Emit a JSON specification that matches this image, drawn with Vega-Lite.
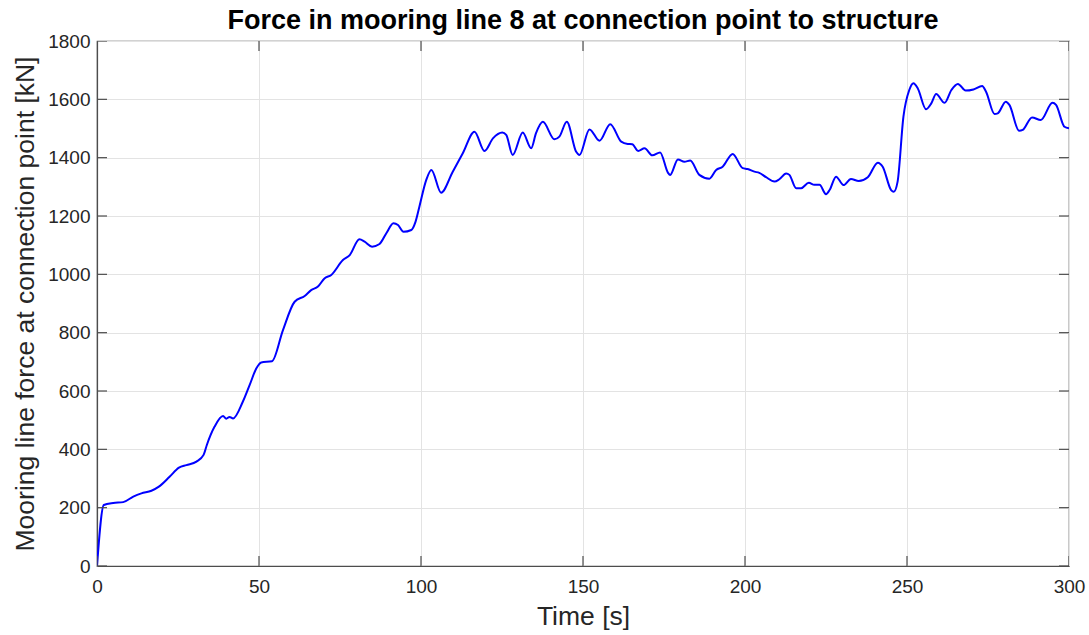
{
  "$schema": "https://vega.github.io/schema/vega-lite/v6.json",
  "autosize": "none",
  "padding": {"left": 97, "top": 41, "right": 19, "bottom": 69},
  "width": 972,
  "height": 525,
  "title": {
    "text": "Force in mooring line 8 at connection point to structure",
    "fontSize": 27,
    "fontWeight": "bold",
    "font": "Liberation Sans",
    "color": "#000000",
    "anchor": "middle",
    "offset": -3
  },
  "config": {
    "font": "Liberation Sans",
    "view": {"stroke": "#4d4d4d", "strokeWidth": 1.2},
    "axis": {
      "labelFont": "Liberation Sans",
      "labelFontSize": 19,
      "labelColor": "#262626",
      "titleFont": "Liberation Sans",
      "titleFontSize": 26.5,
      "titleFontWeight": "normal",
      "titleColor": "#262626",
      "gridColor": "#e3e3e3",
      "gridWidth": 1,
      "domainColor": "#4d4d4d",
      "domainWidth": 1.2,
      "ticks": false,
      "labelFlush": false,
      "labelOverlap": false
    }
  },
  "datasets": {
    "force": [
      {"t": 0, "v": 0}, {"t": 2.1, "v": 209}, {"t": 5, "v": 216}, {"t": 8.1, "v": 219},
      {"t": 11.2, "v": 238}, {"t": 13.7, "v": 249}, {"t": 16.8, "v": 258}, {"t": 19.1, "v": 272},
      {"t": 22.4, "v": 306}, {"t": 25.3, "v": 337}, {"t": 27.6, "v": 346}, {"t": 30.7, "v": 358},
      {"t": 32.9, "v": 381}, {"t": 33.9, "v": 415}, {"t": 36.3, "v": 478}, {"t": 38.9, "v": 514},
      {"t": 39.9, "v": 505}, {"t": 40.9, "v": 511}, {"t": 42, "v": 506}, {"t": 45, "v": 563},
      {"t": 47.1, "v": 620}, {"t": 49.2, "v": 678}, {"t": 50.7, "v": 698}, {"t": 54, "v": 702},
      {"t": 57.4, "v": 809}, {"t": 61, "v": 906}, {"t": 64.1, "v": 926}, {"t": 66.1, "v": 946},
      {"t": 68.2, "v": 958}, {"t": 70.2, "v": 986}, {"t": 72.3, "v": 998}, {"t": 75.9, "v": 1049},
      {"t": 78, "v": 1066}, {"t": 81, "v": 1120}, {"t": 82.6, "v": 1112}, {"t": 84.9, "v": 1095},
      {"t": 87.2, "v": 1104}, {"t": 89.3, "v": 1141}, {"t": 91.5, "v": 1175}, {"t": 92.9, "v": 1169},
      {"t": 94.6, "v": 1146}, {"t": 97, "v": 1152}, {"t": 98.3, "v": 1180}, {"t": 99.5, "v": 1232},
      {"t": 101.6, "v": 1323}, {"t": 103.2, "v": 1358}, {"t": 106.2, "v": 1280}, {"t": 109.8, "v": 1352},
      {"t": 112.9, "v": 1415}, {"t": 116.5, "v": 1489}, {"t": 119.6, "v": 1423}, {"t": 122.2, "v": 1466},
      {"t": 125.1, "v": 1486}, {"t": 126.3, "v": 1478}, {"t": 128.3, "v": 1409}, {"t": 131.4, "v": 1486},
      {"t": 134, "v": 1432}, {"t": 135.5, "v": 1484}, {"t": 137.6, "v": 1523}, {"t": 141.2, "v": 1463},
      {"t": 142.7, "v": 1472}, {"t": 145, "v": 1523}, {"t": 147.9, "v": 1420}, {"t": 148.9, "v": 1409},
      {"t": 152, "v": 1497}, {"t": 155.1, "v": 1458}, {"t": 158.4, "v": 1515}, {"t": 161.8, "v": 1455},
      {"t": 163.8, "v": 1447}, {"t": 165.2, "v": 1446}, {"t": 167, "v": 1423}, {"t": 169, "v": 1432},
      {"t": 171.4, "v": 1408}, {"t": 173.8, "v": 1418}, {"t": 176.2, "v": 1349}, {"t": 176.9, "v": 1341},
      {"t": 179.3, "v": 1394}, {"t": 181.3, "v": 1386}, {"t": 183.1, "v": 1390}, {"t": 185.9, "v": 1341},
      {"t": 189, "v": 1328}, {"t": 191.1, "v": 1358}, {"t": 193.1, "v": 1369}, {"t": 196.2, "v": 1413},
      {"t": 199.3, "v": 1364}, {"t": 200.8, "v": 1361}, {"t": 202.9, "v": 1352}, {"t": 204.4, "v": 1348},
      {"t": 206.5, "v": 1333}, {"t": 209.1, "v": 1318}, {"t": 210.6, "v": 1326}, {"t": 212.7, "v": 1346},
      {"t": 213.7, "v": 1341}, {"t": 215.8, "v": 1295}, {"t": 217.3, "v": 1295}, {"t": 219.7, "v": 1314},
      {"t": 221.4, "v": 1307}, {"t": 223, "v": 1307}, {"t": 225, "v": 1275}, {"t": 226.1, "v": 1289},
      {"t": 228.1, "v": 1335}, {"t": 230.4, "v": 1306}, {"t": 232.7, "v": 1327}, {"t": 235.1, "v": 1320},
      {"t": 237.9, "v": 1333}, {"t": 241, "v": 1383}, {"t": 242.5, "v": 1369}, {"t": 245.1, "v": 1289},
      {"t": 245.9, "v": 1283}, {"t": 247.1, "v": 1318}, {"t": 248.9, "v": 1541}, {"t": 250.7, "v": 1632},
      {"t": 252, "v": 1655}, {"t": 253.3, "v": 1638}, {"t": 255.9, "v": 1566}, {"t": 257.5, "v": 1586},
      {"t": 259, "v": 1618}, {"t": 261.6, "v": 1588}, {"t": 263.7, "v": 1632}, {"t": 265.7, "v": 1653},
      {"t": 268.1, "v": 1630}, {"t": 270.5, "v": 1634}, {"t": 273.2, "v": 1646}, {"t": 274.4, "v": 1626},
      {"t": 277, "v": 1550}, {"t": 278, "v": 1552}, {"t": 280.5, "v": 1592}, {"t": 281.6, "v": 1581},
      {"t": 284.6, "v": 1492}, {"t": 285.7, "v": 1495}, {"t": 288.6, "v": 1538}, {"t": 291.3, "v": 1529},
      {"t": 294.9, "v": 1588}, {"t": 296, "v": 1581}, {"t": 298.6, "v": 1506}, {"t": 300, "v": 1501}
    ],
    "xticks": [{"t": 0}, {"t": 50}, {"t": 100}, {"t": 150}, {"t": 200}, {"t": 250}, {"t": 300}],
    "yticks": [{"v": 0}, {"v": 200}, {"v": 400}, {"v": 600}, {"v": 800}, {"v": 1000}, {"v": 1200}, {"v": 1400}, {"v": 1600}, {"v": 1800}]
  },
  "layer": [
    {
      "data": {"name": "force"},
      "mark": {"type": "line", "color": "#0000ff", "strokeWidth": 2, "interpolate": "monotone", "clip": true},
      "encoding": {
        "x": {
          "field": "t", "type": "quantitative",
          "scale": {"domain": [0, 300], "nice": false, "zero": false},
          "axis": {"title": "Time [s]", "values": [0, 50, 100, 150, 200, 250, 300], "format": "d", "labelPadding": 11, "titlePadding": 7}
        },
        "y": {
          "field": "v", "type": "quantitative",
          "scale": {"domain": [0, 1800], "nice": false},
          "axis": {"title": "Mooring line force at connection point [kN]", "values": [0, 200, 400, 600, 800, 1000, 1200, 1400, 1600, 1800], "format": "d", "labelPadding": 7, "titlePadding": 8}
        }
      }
    },
    {
      "data": {"name": "xticks"},
      "mark": {"type": "tick", "orient": "vertical", "size": 20, "thickness": 1.2, "color": "#4d4d4d", "opacity": 1, "clip": true},
      "encoding": {
        "x": {"field": "t", "type": "quantitative",
              "axis": {"title": "Time [s]", "values": [0, 50, 100, 150, 200, 250, 300], "format": "d", "labelPadding": 11, "titlePadding": 7}},
        "y": {"datum": 0, "type": "quantitative",
              "axis": {"title": "Mooring line force at connection point [kN]", "values": [0, 200, 400, 600, 800, 1000, 1200, 1400, 1600, 1800], "format": "d", "labelPadding": 7, "titlePadding": 8}}
      }
    },
    {
      "data": {"name": "xticks"},
      "mark": {"type": "tick", "orient": "vertical", "size": 20, "thickness": 1.2, "color": "#4d4d4d", "opacity": 1, "clip": true},
      "encoding": {
        "x": {"field": "t", "type": "quantitative",
              "axis": {"title": "Time [s]", "values": [0, 50, 100, 150, 200, 250, 300], "format": "d", "labelPadding": 11, "titlePadding": 7}},
        "y": {"datum": 1800, "type": "quantitative",
              "axis": {"title": "Mooring line force at connection point [kN]", "values": [0, 200, 400, 600, 800, 1000, 1200, 1400, 1600, 1800], "format": "d", "labelPadding": 7, "titlePadding": 8}}
      }
    },
    {
      "data": {"name": "yticks"},
      "mark": {"type": "tick", "orient": "horizontal", "size": 20, "thickness": 1.2, "color": "#4d4d4d", "opacity": 1, "clip": true},
      "encoding": {
        "x": {"datum": 0, "type": "quantitative",
              "axis": {"title": "Time [s]", "values": [0, 50, 100, 150, 200, 250, 300], "format": "d", "labelPadding": 11, "titlePadding": 7}},
        "y": {"field": "v", "type": "quantitative",
              "axis": {"title": "Mooring line force at connection point [kN]", "values": [0, 200, 400, 600, 800, 1000, 1200, 1400, 1600, 1800], "format": "d", "labelPadding": 7, "titlePadding": 8}}
      }
    },
    {
      "data": {"name": "yticks"},
      "mark": {"type": "tick", "orient": "horizontal", "size": 20, "thickness": 1.2, "color": "#4d4d4d", "opacity": 1, "clip": true},
      "encoding": {
        "x": {"datum": 300, "type": "quantitative",
              "axis": {"title": "Time [s]", "values": [0, 50, 100, 150, 200, 250, 300], "format": "d", "labelPadding": 11, "titlePadding": 7}},
        "y": {"field": "v", "type": "quantitative",
              "axis": {"title": "Mooring line force at connection point [kN]", "values": [0, 200, 400, 600, 800, 1000, 1200, 1400, 1600, 1800], "format": "d", "labelPadding": 7, "titlePadding": 8}}
      }
    }
  ]
}
